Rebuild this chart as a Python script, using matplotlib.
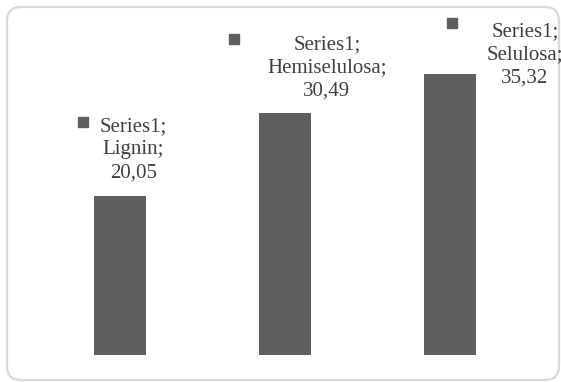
import matplotlib
matplotlib.use("Agg")
import matplotlib.pyplot as plt
from matplotlib.patches import FancyBboxPatch
from matplotlib.transforms import offset_copy

# ── data ──────────────────────────────────────────────────────────────────────
series_name = "Series1"
components = ["Lignin", "Hemiselulosa", "Selulosa"]
values = [20.05, 30.49, 35.32]

# label placement (pixels, relative to bar centre / bar top)
label_dx = [13.5, 42, 75]
label_dy = [18, 17, -8]        # last-line baseline above bar top
key_dx = [-37, -51.5, 2]
key_dy = [73.5, 73.5, 51.5]

BAR_COLOR = "#5f5f5f"
TEXT_COLOR = "#404040"
FRAME_COLOR = "#d9d9d9"

W, H = 561, 382
fig = plt.figure(figsize=(W / 100, H / 100), dpi=100)

# ── rounded chart frame (pixel coordinates) ──────────────────────────────────
frame_ax = fig.add_axes([0, 0, 1, 1])
frame_ax.set_xlim(0, W)
frame_ax.set_ylim(H, 0)
frame_ax.axis("off")
frame = FancyBboxPatch((7, 7), 552, 373,
                       boxstyle="round,pad=0,rounding_size=14",
                       facecolor="white", edgecolor=FRAME_COLOR, linewidth=1.6)
frame_ax.add_patch(frame)

# ── bars ──────────────────────────────────────────────────────────────────────
ax = fig.add_axes([37.5 / W, 27 / H, 495 / W, 318 / H])
ax.patch.set_alpha(0)
x = list(range(len(values)))
ax.bar(x, values, width=0.315, color=BAR_COLOR)
ax.set_xlim(-0.5, len(values) - 0.5)
ax.set_ylim(0, 40)
for s in ax.spines.values():
    s.set_visible(False)
ax.set_xticks([])
ax.set_yticks([])

# ── data labels with legend keys ─────────────────────────────────────────────
for i, (name, v) in enumerate(zip(components, values)):
    text = f"{series_name};\n{name};\n{v:.2f}".replace(".", ",")
    tr = offset_copy(ax.transData, fig=fig, x=label_dx[i], y=label_dy[i], units="dots")
    t = ax.text(i, v, text, transform=tr, ha="center", va="baseline",
                multialignment="center", fontsize=15, linespacing=1.3,
                family="Liberation Serif", color=TEXT_COLOR)
    t.set_clip_path(frame)
    ktr = offset_copy(ax.transData, fig=fig, x=key_dx[i], y=key_dy[i], units="dots")
    ax.plot([i], [v], transform=ktr, marker="s", markersize=7,
            color=BAR_COLOR, linestyle="none", clip_on=False)

fig.savefig("out.png", dpi=100)
